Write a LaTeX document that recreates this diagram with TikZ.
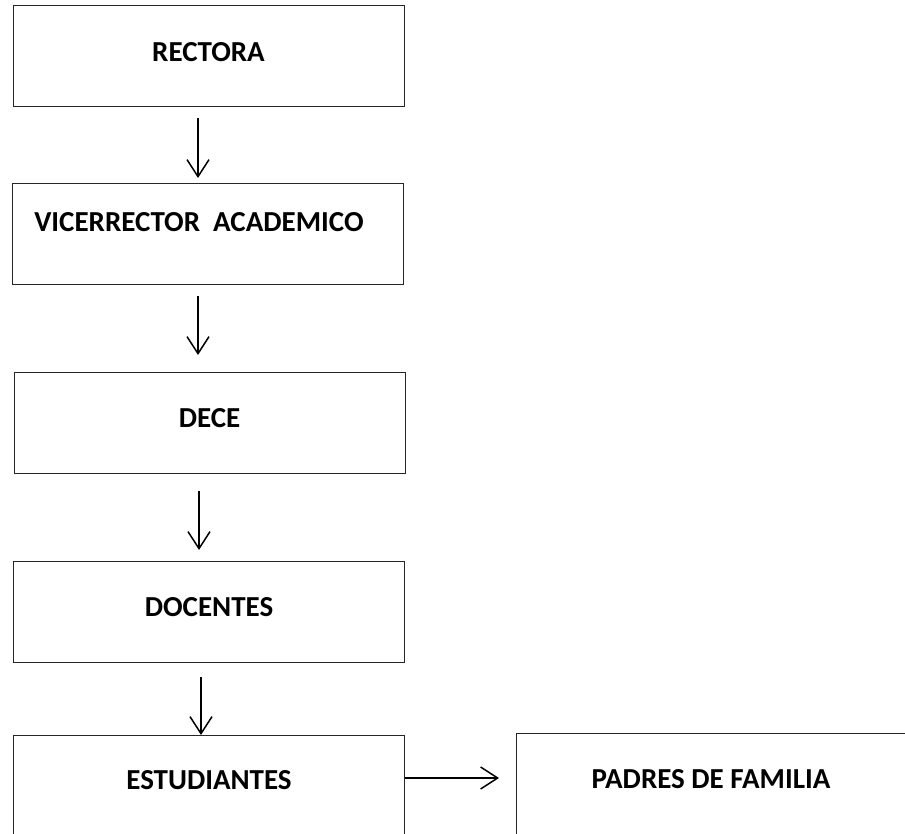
\documentclass[tikz,border=0pt]{standalone}
\usepackage{fontspec}
\setmainfont{Carlito}
\usetikzlibrary{arrows.meta,positioning}
\begin{document}
\begin{tikzpicture}[x=1pt,y=-1pt,
  orgbox/.style={draw=black!85,line width=1pt,rectangle,inner sep=0pt,
    minimum width=391pt,minimum height=101pt,
    font=\fontsize{29}{34}\selectfont\bfseries},
  lbl/.style={inner sep=0pt,font=\fontsize{29}{34}\selectfont\bfseries},
  arr/.style={line width=1.5pt,-{Straight Barb[length=17pt,width=22pt,line width=1.5pt]}}]
\useasboundingbox (0,0) rectangle (905,834);
\clip (0,0) rectangle (905,834);
\node[orgbox,text depth=9pt] (rect) at (208.5,56.5) {RECTORA};
\node[orgbox,text depth=24pt] (vice) at (208,234) {VICERRECTOR\ \ ACADEMICO\kern18pt\relax};
\node[orgbox,text depth=11pt] (dece) at (209.5,423) {DECE};
\node[orgbox,text depth=10pt] (doc) at (209,612) {DOCENTES};
\node[orgbox,anchor=north,text depth=0pt,minimum height=102pt] (est) at (208.5,735) {};
\node[lbl] (esttxt) at (209,780) {ESTUDIANTES};
\node[orgbox,anchor=north west,minimum width=640pt,minimum height=102pt] (pad) at (516,733) {};
\node[lbl] (padtxt) at (711,779) {PADRES DE FAMILIA};
\draw[arr] ([xshift=-10.5pt,yshift=-11pt]rect.south) -- ([xshift=-10pt,yshift=5pt]vice.north);
\draw[arr] ([xshift=-10pt,yshift=-11pt]vice.south) -- ([xshift=-11.5pt,yshift=17pt]dece.north);
\draw[arr] ([xshift=-10.5pt,yshift=-17pt]dece.south) -- ([xshift=-10pt,yshift=11pt]doc.north);
\draw[arr] ([xshift=-8pt,yshift=-14pt]doc.south) -- ([xshift=-7.5pt]est.north);
\draw[arr,line width=2pt] (est.east |- 0,778) -- ([xshift=-17pt]pad.west |- 0,778);
\end{tikzpicture}
\end{document}
